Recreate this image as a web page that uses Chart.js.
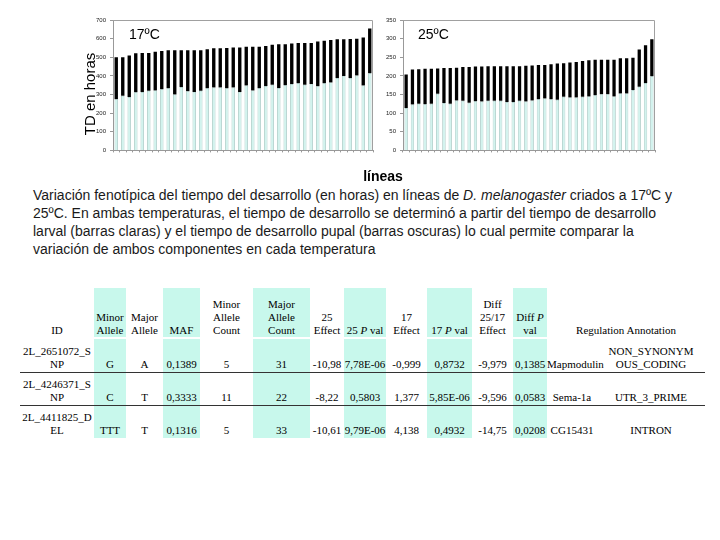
<!DOCTYPE html>
<html lang="es">
<head>
<meta charset="UTF-8">
<title>Tiempo de desarrollo - líneas de D. melanogaster</title>
<style>
    body {
        margin: 0;
        width: 720px;
        height: 540px;
        background: #fff;
        position: relative;
        overflow: hidden;
        font-family: 'Liberation Sans', Arial, sans-serif;
        color: #000;
    }
    .chart-box { position: absolute; }
    .ylabel {
        position: absolute;
        left: 89px;
        top: 94px;
        font-size: 15px;
        white-space: nowrap;
        transform: translate(-50%, -50%) rotate(-90deg);
    }
    .temp {
        position: absolute;
        font-size: 14px;
        line-height: 14px;
    }
    .xlabel {
        position: absolute;
        left: 383px;
        top: 176px;
        transform: translate(-50%, -50%);
        font-size: 14px;
        font-weight: bold;
    }
    .caption {
        position: absolute;
        left: 33px;
        top: 186px;
        font-size: 14px;
        line-height: 18px;
        white-space: pre;
        color: #1a1a1a;
    }
    table.snps {
        position: absolute;
        left: 20px;
        top: 288px;
        width: 685px;
        border-collapse: collapse;
        table-layout: fixed;
        font-family: 'Liberation Serif', 'Times New Roman', serif;
        font-size: 11px;
        line-height: 13px;
    }
    table.snps td {
        padding: 0;
        text-align: center;
        vertical-align: bottom;
        white-space: nowrap;
    }
    table.snps tr.head td { height: 49px; }
    table.snps tr.gap td { height: 2px; }
    table.snps tr.row td { height: 33px; padding-bottom: 1px; box-sizing: border-box; }
    table.snps tr.row.line td { border-bottom: 1px solid #333; }
    table.snps td.sh { background: #c8f8ec; }
</style>
<script src="https://cdn.jsdelivr.net/npm/chart.js"></script>
</head>
<body>

<div class="chart-box" style="left:84px; top:12px; width:296px; height:146px;">
    <canvas id="chart17"></canvas>
</div>
<div class="chart-box" style="left:374px; top:12px; width:288px; height:146px;">
    <canvas id="chart25"></canvas>
</div>

<div class="ylabel">TD en horas</div>
<div class="temp" style="left:129px; top:27px;">17ºC</div>
<div class="temp" style="left:418px; top:27px;">25ºC</div>
<div class="xlabel">líneas</div>

<div class="caption">Variación fenotípica del tiempo del desarrollo (en horas) en líneas de <i>D. melanogaster</i> criados a 17ºC y
25ºC. En ambas temperaturas, el tiempo de desarrollo se determinó a partir del tiempo de desarrollo
larval (barras claras) y el tiempo de desarrollo pupal (barras oscuras) lo cual permite comparar la
variación de ambos componentes en cada temperatura</div>

<table class="snps">
    <colgroup>
        <col style="width:74px"><col style="width:32px"><col style="width:37px"><col style="width:37px">
        <col style="width:53px"><col style="width:57px"><col style="width:34px"><col style="width:42px">
        <col style="width:41px"><col style="width:45px"><col style="width:41px"><col style="width:34px">
        <col style="width:50px"><col style="width:108px">
    </colgroup>
    <tr class="head">
        <td>ID</td>
        <td class="sh">Minor<br>Allele</td>
        <td>Major<br>Allele</td>
        <td class="sh">MAF</td>
        <td>Minor<br>Allele<br>Count</td>
        <td class="sh">Major<br>Allele<br>Count</td>
        <td>25<br>Effect</td>
        <td class="sh">25 <i>P</i> val</td>
        <td>17<br>Effect</td>
        <td class="sh">17 <i>P</i> val</td>
        <td>Diff<br>25/17<br>Effect</td>
        <td class="sh">Diff <i>P</i><br>val</td>
        <td colspan="2">Regulation Annotation</td>
    </tr>
    <tr class="gap"><td></td><td></td><td></td><td></td><td></td><td></td><td></td><td></td><td></td><td></td><td></td><td></td><td></td><td></td></tr>
    <tr class="row line">
        <td>2L_2651072_S<br>NP</td>
        <td class="sh">G</td>
        <td>A</td>
        <td class="sh">0,1389</td>
        <td>5</td>
        <td class="sh">31</td>
        <td>-10,98</td>
        <td class="sh">7,78E-06</td>
        <td>-0,999</td>
        <td class="sh">0,8732</td>
        <td>-9,979</td>
        <td class="sh">0,1385</td>
        <td>Mapmodulin</td>
        <td>NON_SYNONYM<br>OUS_CODING</td>
    </tr>
    <tr class="row line">
        <td>2L_4246371_S<br>NP</td>
        <td class="sh">C</td>
        <td>T</td>
        <td class="sh">0,3333</td>
        <td>11</td>
        <td class="sh">22</td>
        <td>-8,22</td>
        <td class="sh">0,5803</td>
        <td>1,377</td>
        <td class="sh">5,85E-06</td>
        <td>-9,596</td>
        <td class="sh">0,0583</td>
        <td>Sema-1a</td>
        <td>UTR_3_PRIME</td>
    </tr>
    <tr class="row">
        <td>2L_4411825_D<br>EL</td>
        <td class="sh">TTT</td>
        <td>T</td>
        <td class="sh">0,1316</td>
        <td>5</td>
        <td class="sh">33</td>
        <td>-10,61</td>
        <td class="sh">9,79E-06</td>
        <td>4,138</td>
        <td class="sh">0,4932</td>
        <td>-14,75</td>
        <td class="sh">0,0208</td>
        <td>CG15431</td>
        <td>INTRON</td>
    </tr>
</table>

<script>
    // líneas (one bar per line, sorted by total time)
    const lineas = ['1','2','3','4','5','6','7','8','9','10','11','12','13','14','15','16','17','18','19','20',
                    '21','22','23','24','25','26','27','28','29','30','31','32','33','34','35','36','37','38','39','40'];

    // 17ºC: larval (light) and pupal (dark) hours
    const larval17 = [275, 293, 287, 312, 313, 320, 322, 328, 334, 300, 340, 318, 314, 320, 334, 338, 338, 334, 338, 314,
                      348, 322, 333, 346, 352, 335, 350, 356, 360, 352, 357, 345, 360, 365, 388, 400, 388, 402, 348, 414];
    const pupal17  = [225, 207, 223, 209, 210, 203, 208, 206, 203, 237, 197, 219, 224, 218, 209, 210, 211, 216, 214, 238,
                      208, 234, 223, 215, 215, 235, 220, 218, 216, 224, 220, 240, 228, 227, 209, 197, 210, 197, 258, 240];

    // 25ºC
    const larval25 = [114, 123, 125, 124, 125, 152, 127, 125, 134, 133, 128, 132, 131, 133, 133, 133, 130, 130, 133, 131,
                      134, 137, 139, 137, 136, 144, 142, 142, 144, 145, 148, 151, 151, 145, 153, 153, 162, 171, 181, 199];
    const pupal25  = [90, 94, 93, 95, 94, 68, 94, 96, 88, 91, 96, 93, 94, 93, 93, 93, 96, 96, 93, 96,
                      94, 92, 90, 94, 97, 90, 94, 95, 96, 97, 95, 92, 92, 98, 94, 94, 87, 100, 101, 99];

    Chart.defaults.font.family = "'Liberation Sans', Arial, sans-serif";
    Chart.defaults.animation = false;

    // grey frame on top and right of the plot area
    const framePlugin = {
        id: 'frame',
        afterDraw(chart) {
            const { ctx, chartArea: a } = chart;
            ctx.save();
            ctx.strokeStyle = '#a0a0a0';
            ctx.lineWidth = 1;
            ctx.beginPath();
            ctx.moveTo(a.left, a.top + 0.5);
            ctx.lineTo(a.right - 0.5, a.top + 0.5);
            ctx.lineTo(a.right - 0.5, a.bottom);
            ctx.stroke();
            ctx.restore();
        }
    };

    function makeChart(id, larval, pupal, yMax, yStep) {
        const ctx = document.getElementById(id).getContext('2d');
        return new Chart(ctx, {
            type: 'bar',
            data: {
                labels: lineas,
                datasets: [{
                    label: 'larval',
                    data: larval,
                    backgroundColor: '#d2f3ee',
                    borderColor: '#8fb5b1',
                    borderWidth: 0.7,
                    borderSkipped: 'start'
                }, {
                    label: 'pupal',
                    data: pupal,
                    backgroundColor: '#000',
                    borderWidth: 0
                }]
            },
            options: {
                responsive: true,
                maintainAspectRatio: false,
                datasets: { bar: { barPercentage: 0.52, categoryPercentage: 1 } },
                layout: { padding: { top: 8, right: 7, bottom: 4, left: 0 } },
                plugins: { legend: { display: false }, tooltip: { enabled: false } },
                scales: {
                    x: {
                        stacked: true,
                        ticks: { display: false },
                        grid: { drawOnChartArea: false, tickLength: 2, color: '#999' },
                        border: { color: '#999' },
                        afterFit(s) { s.height = 2; }
                    },
                    y: {
                        stacked: true,
                        min: 0,
                        max: yMax,
                        ticks: { stepSize: yStep, font: { size: 6 }, color: '#222', padding: 4 },
                        grid: { drawOnChartArea: false, tickLength: 3, color: '#999' },
                        border: { color: '#999' },
                        afterFit(s) { s.width = 29; }
                    }
                }
            },
            plugins: [framePlugin]
        });
    }

    makeChart('chart17', larval17, pupal17, 700, 100);
    makeChart('chart25', larval25, pupal25, 350, 50);
</script>
</body>
</html>
